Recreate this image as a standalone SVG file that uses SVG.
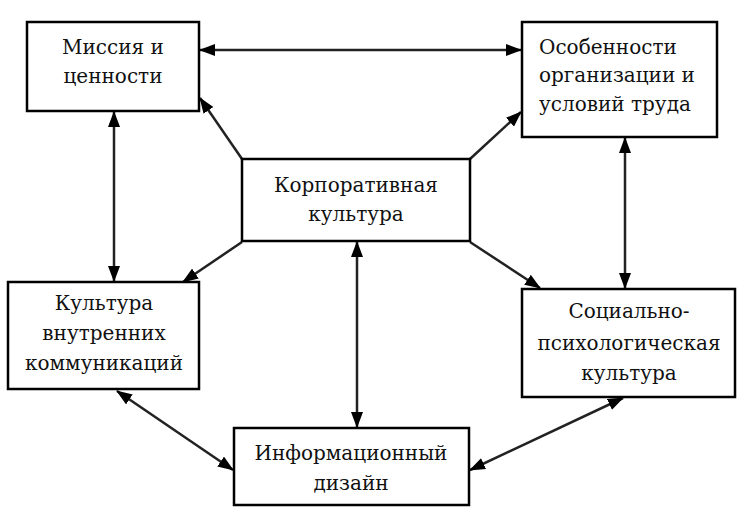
<svg xmlns="http://www.w3.org/2000/svg" width="756" height="524" viewBox="0 0 756 524">
<style>
.box{fill:#fff;stroke:#000;stroke-width:2.5}
text{font-family:'DejaVu Serif','Liberation Serif',serif;font-size:20px;fill:#111}
.t{text-anchor:middle}
.ts{text-anchor:start}
.c{stroke:#222;stroke-width:2.5;fill:none;marker-end:url(#ah)}
.d{stroke:#222;stroke-width:2.5;fill:none;marker-start:url(#ah);marker-end:url(#ah)}
</style>
<defs>
<marker id="ah" markerUnits="userSpaceOnUse" markerWidth="16" markerHeight="12" refX="15" refY="6" orient="auto-start-reverse" viewBox="0 0 16 12">
<path d="M0,0 L16,6 L0,12 z" fill="#000"/>
</marker>
</defs>
<rect width="756" height="524" fill="#fff"/>
<g id="connectors">
<line class="d" x1="200" y1="50" x2="521" y2="50"/>
<line class="c" x1="242" y1="159" x2="200" y2="98"/>
<line class="c" x1="470" y1="159" x2="521" y2="112"/>
<line class="d" x1="114" y1="112" x2="114" y2="281"/>
<line class="d" x1="625" y1="138" x2="625" y2="288"/>
<line class="c" x1="242" y1="242" x2="183" y2="282"/>
<line class="c" x1="470" y1="242" x2="540" y2="288"/>
<line class="d" x1="357" y1="242" x2="357" y2="427"/>
<line class="d" x1="117" y1="391" x2="233" y2="470"/>
<line class="d" x1="623" y1="398" x2="470" y2="470"/>
</g>
<g id="mission">
<rect class="box" x="27" y="22" width="172" height="89"/>
<text class="t" x="113" y="54">Миссия и</text>
<text class="t" x="113" y="83">ценности</text>
</g>
<g id="features">
<rect class="box" x="522" y="22" width="195" height="115"/>
<text class="ts" x="539" y="54">Особенности</text>
<text class="ts" x="539" y="82">организации и</text>
<text class="ts" x="539" y="111">условий труда</text>
</g>
<g id="corporate">
<rect class="box" x="242" y="159" width="228" height="82"/>
<text class="t" x="356" y="192">Корпоративная</text>
<text class="t" x="356" y="221">культура</text>
</g>
<g id="communications">
<rect class="box" x="8" y="282" width="191" height="107"/>
<text class="t" x="104" y="310">Культура</text>
<text class="t" x="104" y="340">внутренних</text>
<text class="t" x="104" y="370">коммуникаций</text>
</g>
<g id="social">
<rect class="box" x="522" y="289" width="213" height="108"/>
<text class="t" x="629" y="318">Социально-</text>
<text class="t" x="629" y="350">психологическая</text>
<text class="t" x="629" y="380">культура</text>
</g>
<g id="design">
<rect class="box" x="234" y="428" width="235" height="77"/>
<text class="t" x="351" y="460">Информационный</text>
<text class="t" x="351" y="490">дизайн</text>
</g>
</svg>
